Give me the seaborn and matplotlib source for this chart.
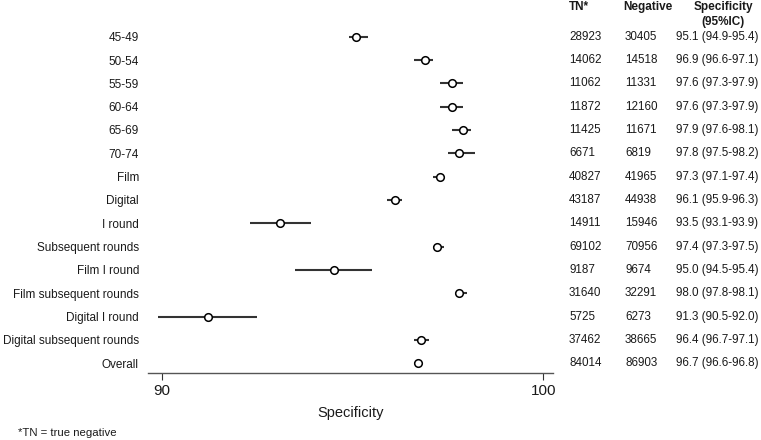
import pandas as pd
import numpy as np
import matplotlib
matplotlib.use("Agg")
import matplotlib.pyplot as plt
import matplotlib.transforms as mtransforms
import seaborn as sns

# Rows of the forest plot (top to bottom)
groups = ["45-49", "50-54", "55-59", "60-64", "65-69", "70-74", "Film", "Digital",
          "I round", "Subsequent rounds", "Film I round", "Film subsequent rounds",
          "Digital I round", "Digital subsequent rounds", "Overall"]

# Plotted estimates and CI bounds
est = [95.1, 96.9, 97.6, 97.6, 97.9, 97.8, 97.3, 96.1, 93.1, 97.2, 94.5, 97.8, 91.2, 96.8, 96.7]
ci_low = [94.9, 96.6, 97.3, 97.3, 97.6, 97.5, 97.1, 95.9, 92.3, 97.1, 93.5, 97.7, 89.9, 96.6, 96.6]
ci_high = [95.4, 97.1, 97.9, 97.9, 98.1, 98.2, 97.4, 96.3, 93.9, 97.4, 95.5, 98.0, 92.5, 97.0, 96.8]

# Table columns
tn = ["28923", "14062", "11062", "11872", "11425", "6671", "40827", "43187",
      "14911", "69102", "9187", "31640", "5725", "37462", "84014"]
negative = ["30405", "14518", "11331", "12160", "11671", "6819", "41965", "44938",
            "15946", "70956", "9674", "32291", "6273", "38665", "86903"]
spec_txt = ["95.1 (94.9-95.4)", "96.9 (96.6-97.1)", "97.6 (97.3-97.9)", "97.6 (97.3-97.9)",
            "97.9 (97.6-98.1)", "97.8 (97.5-98.2)", "97.3 (97.1-97.4)", "96.1 (95.9-96.3)",
            "93.5 (93.1-93.9)", "97.4 (97.3-97.5)", "95.0 (94.5-95.4)", "98.0 (97.8-98.1)",
            "91.3 (90.5-92.0)", "96.4 (96.7-97.1)", "96.7 (96.6-96.8)"]

df = pd.DataFrame({"group": groups, "est": est, "lo": ci_low, "hi": ci_high})
df["pos"] = np.arange(len(df))

sns.set_style("white")
plt.rcParams["font.family"] = ["Liberation Sans", "DejaVu Sans"]

fs = 8.5    # row labels
fs_t = 8.4  # table text
txt_col = "#1a1a1a"

fig = plt.figure(figsize=(7.61, 4.40), dpi=100)
ax = fig.add_axes([0.1945, 0.1523, 0.5322, 0.8477])

ax.hlines(df["pos"], df["lo"], df["hi"], color="#333333", linewidth=1.5, zorder=1)
sns.scatterplot(data=df, x="est", y="pos", ax=ax, marker="o", s=30,
                facecolor="white", edgecolor="black", linewidth=1.1, zorder=2)

ax.set_xlim(89.64, 100.25)
ax.set_ylim(14.42, -1.573)
ax.set_xticks([90, 100])
ax.set_xticklabels(["90", "100"], fontsize=11, color=txt_col)
ax.set_yticks(df["pos"])
ax.set_yticklabels(groups, fontsize=fs, color=txt_col)
ax.tick_params(axis="y", length=0, pad=6.5)
ax.tick_params(axis="x", length=5, width=0.8, color="#333333", pad=3, direction="out")
ax.xaxis.set_ticks_position("bottom")
ax.set_xlabel("Specificity", fontsize=10.5, labelpad=6, color=txt_col)
ax.set_ylabel("")
for s in ["top", "right", "left"]:
    ax.spines[s].set_visible(False)
ax.spines["bottom"].set_color("#555555")
ax.spines["bottom"].set_linewidth(1.0)

# Table on the right, rows aligned with the plot rows
trans = mtransforms.blended_transform_factory(fig.transFigure, ax.transData)
for i in range(len(groups)):
    ax.text(569 / 761, i, tn[i], transform=trans, fontsize=fs_t, color=txt_col,
            va="center", ha="left", clip_on=False)
    ax.text(625 / 761, i, negative[i], transform=trans, fontsize=fs_t, color=txt_col,
            va="center", ha="left", clip_on=False)
    ax.text(676 / 761, i, spec_txt[i], transform=trans, fontsize=fs_t, color=txt_col,
            va="center", ha="left", clip_on=False)

fig.text(569 / 761, 1 - 7 / 440, "TN*", fontsize=fs, fontweight="bold", color=txt_col, va="center", ha="left")
fig.text(623 / 761, 1 - 7 / 440, "Negative", fontsize=fs, fontweight="bold", color=txt_col, va="center", ha="left")
fig.text(723 / 761, 1 - 7 / 440, "Specificity", fontsize=fs, fontweight="bold", color=txt_col, va="center", ha="center")
fig.text(723 / 761, 1 - 22 / 440, "(95%IC)", fontsize=fs, fontweight="bold", color=txt_col, va="center", ha="center")

fig.text(18 / 761, 1 - 433 / 440, "*TN = true negative", fontsize=8.2, color=txt_col, va="center", ha="left")

fig.savefig("out.png", dpi=100)
